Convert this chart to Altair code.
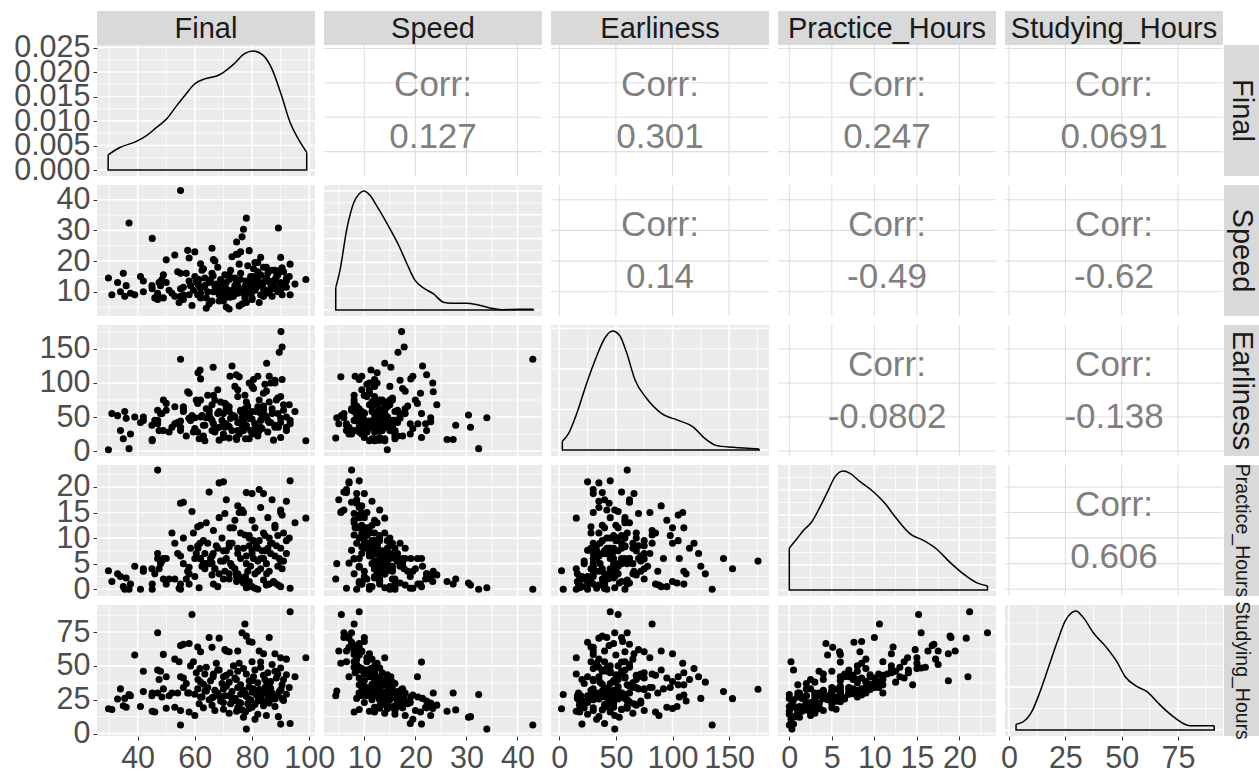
import altair as alt
import pandas as pd

# ---------------- data ----------------
final = [55.0, 29.8, 78.0, 89.2, 77.0, 76.5, 74.6, 90.0, 60.0, 93.3, 55.0, 31.0, 36.0, 45.1, 50.0, 77.7, 75.0, 80.0, 84.0, 82.0,
         85.0, 67.0, 41.0, 72.0, 63.0, 58.0, 53.0, 70.0, 88.0, 35.0, 66.0, 79.0, 46.0, 81.0,
         37.0, 45.1, 72.0, 64.0, 57.5, 73.0, 74.5, 62.0, 76.0, 42.0, 34.0, 35.5, 37.5, 33.0, 47.0, 45.0, 48.5, 51.0, 54.0, 56.0,
         58.0, 60.0, 61.0, 62.5, 63.5, 64.5, 65.0, 66.0, 67.0, 68.0, 69.0, 70.0, 70.5, 71.0, 72.5, 73.0, 74.0, 75.0, 75.5, 76.0,
         77.0, 78.0, 78.5, 79.0, 79.5, 80.0, 80.5, 81.0, 81.5, 82.0, 82.5, 83.0, 83.5, 84.0, 84.5, 85.0, 85.5, 86.0, 86.5, 87.0,
         88.0, 89.0, 90.0, 91.0, 92.0, 93.0, 70.0, 52.0, 68.5, 79.0, 87.5, 61.5, 77.5, 49.0, 66.5, 82.0,
         47.0, 93.3, 59.0, 77.5, 76.5, 78.0, 98.8, 65.0, 68.5, 55.0, 56.0, 61.0, 70.5, 71.0, 75.0, 79.0, 82.5, 88.0, 84.0, 58.0,
         66.0, 62.0, 80.0, 72.0, 86.0, 54.5, 92.0, 90.0, 83.0, 39.0, 75.5, 49.0,
         61.8, 66.4, 72.3, 85.1, 61.1, 50.0, 42.0, 47.0, 48.0, 47.5, 53.0, 55.0, 56.0, 58.5, 59.5, 60.5, 62.0, 63.0, 64.0, 65.5,
         66.5, 67.5, 68.5, 69.5, 71.0, 72.0, 73.5, 74.0, 75.0, 76.0, 77.0, 78.0, 79.0, 80.0, 80.5, 81.0, 82.0, 83.0, 84.0, 84.5,
         85.5, 86.5, 87.0, 88.0, 88.5, 89.0, 90.0, 91.0, 92.0, 95.0, 57.0, 70.0, 80.0, 86.0, 68.0, 74.5, 63.5, 90.5,
         90.1, 90.5, 89.5]
speed = [43.0, 14.5, 34.0, 30.8, 30.4, 27.9, 26.2, 21.2, 23.0, 19.0, 16.0, 9.0, 12.0, 11.0, 13.0, 12.0, 22.2, 15.0, 13.0, 16.0,
         18.0, 20.0, 15.0, 14.0, 17.5, 21.0, 22.0, 12.0, 17.0, 16.0, 24.2, 23.4, 8.0, 19.5,
         32.4, 27.4, 4.4, 4.6, 23.5, 21.4, 22.2, 19.1, 23.0, 13.5, 10.0, 8.5, 9.5, 13.0, 9.0, 12.0, 14.0, 10.5, 16.5, 11.5,
         13.5, 15.0, 12.5, 17.0, 14.5, 10.0, 13.0, 16.0, 12.0, 18.0, 14.0, 11.0, 15.5, 13.0, 17.0, 10.5, 14.5, 12.0, 19.0, 16.0,
         11.0, 13.5, 18.5, 9.5, 15.0, 12.5, 17.5, 14.0, 11.5, 16.5, 13.0, 15.5, 12.0, 18.0, 10.5, 14.5, 16.0, 13.5, 11.0, 17.0,
         14.0, 15.5, 12.5, 16.5, 13.5, 15.0, 10.0, 9.5, 12.5, 11.5, 13.0, 14.0, 9.0, 15.5, 20.5, 19.5,
         7.5, 9.0, 5.5, 8.0, 6.0, 6.5, 14.0, 6.0, 7.0, 8.5, 7.5, 9.0, 8.0, 5.0, 9.5, 10.0, 6.5, 11.0, 8.5, 9.0,
         7.0, 8.0, 7.5, 9.5, 10.0, 6.5, 11.5, 10.5, 21.2, 9.0, 5.4, 8.0,
         11.3, 15.2, 8.2, 14.0, 12.5, 20.4, 10.0, 9.5, 12.0, 13.0, 8.5, 11.0, 9.0, 12.0, 10.5, 13.5, 9.5, 11.5, 8.0, 14.0,
         10.0, 12.5, 9.0, 13.0, 11.0, 15.5, 8.5, 12.0, 10.0, 14.0, 9.5, 11.5, 13.0, 8.0, 12.0, 10.5, 14.5, 9.0, 11.0, 13.5,
         10.0, 12.5, 8.5, 11.5, 15.0, 10.0, 13.0, 12.0, 14.5, 12.5, 16.0, 7.0, 10.0, 9.5, 11.0, 13.0, 12.0, 9.0,
         17.3, 17.8, 16.6]
earliness = [135, 2, 49, 35, 53, 38, 17, 20, 49, 40, 30, 55, 48, 15, 60, 18, 30, 95, 60, 25,
             88, 75, 42, 65, 22, 85, 40, 55, 104, 18, 68, 100, 45, 33,
             3.5, 17, 19, 49, 87, 125, 112, 106, 43, 50, 30, 58, 25, 52, 45, 38, 55, 28, 42, 65,
             48, 33, 70, 52, 38, 82, 60, 45, 28, 55, 72, 40, 35, 62, 48, 30, 50, 80, 25, 58,
             44, 36, 66, 52, 30, 47, 92, 40, 58, 22, 75, 45, 33, 62, 98, 50, 28, 72, 42, 55,
             35, 78, 48, 60, 30, 68, 20, 35, 16, 18, 16, 18, 62, 75, 40, 110,
             60, 45, 52, 82, 49, 38, 15, 55, 35, 44, 62, 28, 70, 40, 90, 56, 30, 100, 66, 48,
             30, 75, 25, 58, 42, 40, 35, 80, 55, 50, 109, 30,
             119, 123, 110, 129, 115, 70, 45, 40, 55, 30, 65, 35, 58, 45, 28, 75, 50, 38, 62, 48,
             82, 33, 58, 45, 68, 36, 52, 95, 42, 60, 30, 72, 48, 58, 105, 40, 65, 35, 85, 52,
             45, 100, 62, 38, 75, 55, 42, 68, 50, 58, 22, 25, 30, 110, 90, 20, 15, 105,
             175.5, 153, 145]
practice_hours = [0.0, 3.6, 0.3, 0.8, 1.2, 2.0, 1.5, 0.5, 2.5, 0.2, 1.0, 1.5, 2.2, 0.0, 1.0, 2.5, 3.0, 0.5, 1.8, 0.0,
                  0.8, 4.0, 0.0, 3.0, 5.0, 1.0, 2.0, 5.5, 1.2, 0.5, 2.8, 1.5, 3.0, 0.2,
                  0.0, 1.0, 2.0, 5.0, 3.5, 4.5, 3.0, 6.0, 2.0, 4.0, 2.5, 0.0, 1.0, 3.0, 6.0, 4.0, 5.5, 2.0, 7.0, 5.0,
                  3.0, 6.0, 8.5, 4.5, 7.0, 9.0, 5.0, 6.5, 4.0, 8.0, 5.5, 7.5, 3.5, 6.0, 5.0, 9.0, 4.0, 7.0, 2.5, 6.0,
                  8.0, 5.0, 3.5, 10.0, 4.5, 7.0, 6.0, 3.0, 8.5, 5.5, 9.5, 4.0, 7.5, 6.0, 10.5, 5.0, 8.0, 3.5, 7.0, 9.0,
                  6.5, 4.5, 8.0, 5.5, 7.0, 10.0, 2.0, 11.0, 3.0, 0.5, 1.5, 0.3, 1.2, 2.0, 1.0, 3.5,
                  23.3, 21.2, 15.2, 10.6, 15.5, 18.9, 13.9, 19.0, 20.8, 16.8, 17.0, 12.2, 14.8, 17.5, 16.3, 8.5, 19.5, 12.0, 18.7, 4.3,
                  5.1, 5.9, 7.6, 8.3, 10.0, 0.2, 17.2, 15.0, 6.0, 4.5, 15.0, 6.0,
                  9.0, 7.0, 12.0, 3.0, 8.0, 6.0, 3.5, 7.0, 5.0, 4.0, 9.0, 6.5, 10.0, 8.0, 11.0, 7.0, 12.5, 9.5, 13.0, 6.0,
                  11.5, 8.5, 14.0, 10.0, 7.5, 9.0, 12.0, 13.5, 8.0, 11.0, 15.0, 6.5, 10.5, 13.5, 9.5, 12.0, 8.0, 16.0, 11.0, 7.5,
                  14.0, 9.0, 17.5, 12.5, 8.5, 10.5, 15.5, 11.0, 9.5, 13.0, 2.0, 21.0, 18.7, 1.0, 0.5, 2.5, 4.0, 14.5,
                  5.5, 4.0, 6.0]
studying_hours = [6.3, 18.3, 3.3, 12.5, 12.0, 17.5, 16.5, 7.0, 13.3, 7.5, 17.0, 17.8, 19.5, 16.5, 18.7, 16.0, 19.0, 19.5, 20.5, 14.3,
                  13.3, 17.0, 20.0, 15.0, 19.0, 16.0, 19.5, 18.0, 20.0, 20.5, 21.0, 18.5, 16.0, 10.5,
                  28.8, 30.0, 28.0, 31.5, 30.0, 26.0, 24.0, 27.0, 22.5, 31.0, 33.0, 26.0, 28.0, 25.5, 30.0, 28.0, 27.0, 28.0, 30.0, 34.0,
                  30.0, 29.0, 33.0, 27.0, 31.5, 34.0, 25.0, 26.5, 32.0, 30.0, 24.0, 33.0, 28.0, 35.0, 22.0, 31.0, 26.0, 34.0, 23.0, 29.0,
                  32.0, 27.5, 22.0, 34.5, 25.0, 30.5, 33.0, 21.5, 28.5, 24.0, 32.5, 26.5, 29.5, 23.5, 34.0, 31.0, 27.0, 22.5, 33.5, 30.0,
                  25.5, 28.0, 32.0, 24.5, 29.0, 34.0, 23.0, 30.0, 28.0, 25.0, 26.0, 22.0, 30.0, 33.0, 27.0, 28.5,
                  74.5, 90.0, 88.0, 81.0, 74.5, 72.0, 56.0, 71.0, 70.5, 65.0, 66.0, 64.0, 62.0, 61.0, 61.0, 68.0, 61.0, 59.0, 59.0, 66.5,
                  63.7, 60.5, 67.5, 60.5, 71.0, 53.0, 55.0, 56.0, 52.8, 58.0, 52.0, 58.5,
                  48.0, 42.0, 45.0, 38.0, 40.0, 42.0, 46.0, 47.0, 46.0, 40.0, 55.0, 42.0, 41.0, 50.0, 53.0, 45.0, 38.0, 36.5, 49.0, 39.0,
                  44.0, 52.0, 47.0, 37.0, 43.0, 38.0, 50.0, 41.0, 46.0, 36.0, 48.0, 44.0, 39.0, 53.0, 42.0, 47.0, 37.5, 49.0, 43.0, 40.0,
                  45.0, 38.5, 51.0, 46.0, 41.0, 44.0, 48.5, 40.0, 43.5, 42.0, 37.0, 42.0, 39.0, 36.0, 47.0, 40.0, 44.0, 36.0,
                  32.8, 25.8, 31.0]

VARS = ["Final", "Speed", "Earliness", "Practice_Hours", "Studying_Hours"]

# correlation labels shown in the upper triangle
corr_labels = {(0, 1): "0.127", (0, 2): "0.301", (0, 3): "0.247", (0, 4): "0.0691",
               (1, 2): "0.14", (1, 3): "-0.49", (1, 4): "-0.62",
               (2, 3): "-0.0802", (2, 4): "-0.138", (3, 4): "0.606"}

# axis ticks
major_ticks = {"Final": [40, 60, 80, 100], "Speed": [10, 20, 30, 40], "Earliness": [0, 50, 100, 150],
               "Practice_Hours": [0, 5, 10, 15, 20], "Studying_Hours": [0, 25, 50, 75]}
minor_ticks = {"Final": [30, 50, 70, 90], "Speed": [5, 15, 25, 35], "Earliness": [25, 75, 125, 175],
               "Practice_Hours": [2.5, 7.5, 12.5, 17.5, 22.5], "Studying_Hours": [12.5, 37.5, 62.5, 87.5]}
domains = {"Final": [25.8, 102.0], "Speed": [2.1, 44.8], "Earliness": [-7.3, 185.2],
           "Practice_Hours": [-1.33, 24.3], "Studying_Hours": [-1.8, 95.0]}

# density curves (Final in density units, others relative to their peak)
dens_x = {
    "Final": [29.7, 33.8, 39.4, 43.1, 46.6, 50.1, 53.6, 56.5, 60.0, 63.5, 67.6, 69.9, 73.4, 77.5, 80.4, 83.9, 86.9, 90.3, 93.3, 96.2, 99.1],
    "Speed": [4.4, 5.24, 6.56, 7.85, 9.0, 9.94, 11.1, 12.4, 14.7, 16.65, 18.3, 19.9, 21.5, 23.5, 25.5, 27.1, 30.0, 32.0, 34.6, 36.9, 40.5, 43.1],
    "Earliness": [2.7, 8.0, 15.4, 24.2, 33.0, 40.4, 47.2, 53.6, 59.5, 66.9, 77.2, 90.5, 105.1, 118.4, 127.2, 139.0, 153.7, 176.5],
    "Practice_Hours": [0.0, 0.87, 1.65, 2.63, 3.61, 4.59, 5.38, 6.35, 7.14, 8.32, 9.88, 11.26, 12.6, 14.2, 15.8, 17.3, 18.9, 20.5, 22.0, 23.3],
    "Studying_Hours": [3.1, 6.36, 10.1, 13.8, 17.4, 21.2, 24.9, 27.8, 29.7, 33.0, 37.4, 43.4, 47.8, 51.5, 56.7, 61.1, 67.0, 72.9, 80.3, 91.1],
}
dens_y = {
    "Final": [0.0031, 0.0046, 0.0058, 0.0070, 0.0087, 0.0104, 0.0131, 0.0152, 0.0176, 0.0186, 0.0192, 0.0199, 0.0215, 0.0238, 0.0243, 0.0234, 0.0207, 0.0152, 0.0097, 0.0063, 0.0036],
    "Speed": [0.188, 0.336, 0.678, 0.892, 0.977, 1.0, 0.963, 0.877, 0.707, 0.55, 0.393, 0.251, 0.188, 0.137, 0.066, 0.057, 0.057, 0.046, 0.017, 0.003, 0.006, 0.006],
    "Earliness": [0.074, 0.136, 0.306, 0.561, 0.788, 0.943, 1.0, 0.958, 0.816, 0.589, 0.433, 0.306, 0.249, 0.193, 0.108, 0.037, 0.023, 0.008],
    "Practice_Hours": [0.353, 0.429, 0.5, 0.571, 0.698, 0.839, 0.952, 1.0, 0.98, 0.91, 0.825, 0.726, 0.6, 0.472, 0.415, 0.345, 0.232, 0.133, 0.062, 0.034],
    "Studying_Hours": [0.048, 0.07, 0.155, 0.324, 0.52, 0.73, 0.915, 0.986, 1.0, 0.944, 0.817, 0.69, 0.577, 0.45, 0.366, 0.324, 0.211, 0.113, 0.037, 0.037],
}
dens_major = {"Final": [0, 0.005, 0.010, 0.015, 0.020, 0.025], "Speed": [0, 0.2, 0.4, 0.6, 0.8, 1.0],
              "Earliness": [0, 0.34, 0.68, 1.02], "Practice_Hours": [0, 0.21, 0.42, 0.63, 0.84],
              "Studying_Hours": [0, 0.36, 0.72]}
dens_minor = {"Final": [0.0025, 0.0075, 0.0125, 0.0175, 0.0225], "Speed": [0.1, 0.3, 0.5, 0.7, 0.9],
              "Earliness": [0.17, 0.51, 0.85], "Practice_Hours": [0.105, 0.315, 0.525, 0.735, 0.945],
              "Studying_Hours": [0.18, 0.54, 0.9]}

# ---------------- styling ----------------
W, H = 218, 131
FONT = "Liberation Sans"
STRIP_FILL = "#D9D9D9"
STRIP_TEXT = "#1A1A1A"
CORR_COLOR = "#7F7F7F"
right_strip_size = {"Final": 29, "Speed": 29, "Earliness": 29, "Practice_Hours": 19.5, "Studying_Hours": 19.5}

n = min(len(final), len(speed), len(earliness), len(practice_hours), len(studying_hours))
values = {"Final": final[:n], "Speed": speed[:n], "Earliness": earliness[:n],
          "Practice_Hours": practice_hours[:n], "Studying_Hours": studying_hours[:n]}
dummy = pd.DataFrame({"d": [0]})


def inside(vals, dom):
    return [v for v in vals if dom[0] <= v <= dom[1]]


def vgrid(vals, scale, axis, color, width):
    return alt.Chart(pd.DataFrame({"gx": vals})).mark_rule(color=color, strokeWidth=width).encode(
        x=alt.X("gx:Q", scale=scale, axis=axis))


def hgrid(vals, scale, axis, color, width):
    return alt.Chart(pd.DataFrame({"gy": vals})).mark_rule(color=color, strokeWidth=width).encode(
        y=alt.Y("gy:Q", scale=scale, axis=axis))


def panel(i, j):
    vr, vc = VARS[i], VARS[j]
    xdom = domains[vc]
    xs = alt.Scale(domain=xdom, nice=False, zero=False)
    ax = alt.Axis(values=major_ticks[vc], format="d", title=None) if i == 4 else None
    layers = []
    if i == j:
        peak = max(dens_y[vr])
        ydom = [-0.05 * peak, 1.05 * peak]
        ys = alt.Scale(domain=ydom, nice=False, zero=False)
        ay = alt.Axis(values=dens_major["Final"], format=".3f", title=None) if j == 0 else None
        layers += [
            vgrid(inside(minor_ticks[vc], xdom), xs, ax, "white", 0.8),
            hgrid(inside(dens_minor[vr], ydom), ys, ay, "white", 0.8),
            vgrid(inside(major_ticks[vc], xdom), xs, ax, "white", 1.6),
            hgrid(inside(dens_major[vr], ydom), ys, ay, "white", 1.6),
        ]
        xsx = dens_x[vr]
        ysy = dens_y[vr]
        curve = pd.DataFrame({"x": xsx, "y": ysy})
        layers.append(alt.Chart(curve).mark_line(color="black", strokeWidth=1.5, interpolate="monotone").encode(
            x=alt.X("x:Q", scale=xs, axis=ax), y=alt.Y("y:Q", scale=ys, axis=ay), order="x:Q"))
        edge = pd.DataFrame({"x": [xsx[0], xsx[0], xsx[-1], xsx[-1]],
                             "y": [ysy[0], 0, 0, ysy[-1]], "o": [0, 1, 2, 3]})
        layers.append(alt.Chart(edge).mark_line(color="black", strokeWidth=1.5).encode(
            x=alt.X("x:Q", scale=xs, axis=ax), y=alt.Y("y:Q", scale=ys, axis=ay), order="o:Q"))
    elif i > j:
        ydom = domains[vr]
        ys = alt.Scale(domain=ydom, nice=False, zero=False)
        ay = alt.Axis(values=major_ticks[vr], format="d", title=None) if j == 0 else None
        layers += [
            vgrid(inside(minor_ticks[vc], xdom), xs, ax, "white", 0.8),
            hgrid(inside(minor_ticks[vr], ydom), ys, ay, "white", 0.8),
            vgrid(inside(major_ticks[vc], xdom), xs, ax, "white", 1.6),
            hgrid(inside(major_ticks[vr], ydom), ys, ay, "white", 1.6),
        ]
        df = pd.DataFrame({"x": values[vc], "y": values[vr]})
        layers.append(alt.Chart(df).mark_circle(size=50, color="black", opacity=1).encode(
            x=alt.X("x:Q", scale=xs, axis=ax), y=alt.Y("y:Q", scale=ys, axis=ay)))
    else:
        ydom = domains[vr]
        ys = alt.Scale(domain=ydom, nice=False, zero=False)
        layers.append(alt.Chart(dummy).mark_rect(color="white").encode(
            x=alt.value(0), x2=alt.value(W), y=alt.value(0), y2=alt.value(H)))
        layers += [
            vgrid(inside(major_ticks[vc], xdom), xs, None, "#DEDEDE", 1.1),
            hgrid(inside(major_ticks[vr], ydom), ys, None, "#DEDEDE", 1.1),
        ]
        layers.append(alt.Chart(dummy).mark_text(
            text="Corr:", font=FONT, fontSize=35, color=CORR_COLOR, align="center", baseline="middle").encode(
            x=alt.value(W / 2), y=alt.value(H / 2 - 26)))
        layers.append(alt.Chart(dummy).mark_text(
            text=corr_labels[(i, j)], font=FONT, fontSize=35, color=CORR_COLOR, align="center", baseline="middle").encode(
            x=alt.value(W / 2), y=alt.value(H / 2 + 26)))
    if i == 0:
        layers.append(alt.Chart(dummy).mark_rect(color=STRIP_FILL).encode(
            x=alt.value(0), x2=alt.value(W), y=alt.value(-34), y2=alt.value(0)))
        layers.append(alt.Chart(dummy).mark_text(
            text=vc, font=FONT, fontSize=29, color=STRIP_TEXT, align="center", baseline="middle").encode(
            x=alt.value(W / 2), y=alt.value(-16)))
    if j == 4:
        layers.append(alt.Chart(dummy).mark_rect(color=STRIP_FILL).encode(
            x=alt.value(W + 1), x2=alt.value(W + 36), y=alt.value(0), y2=alt.value(H)))
        layers.append(alt.Chart(dummy).mark_text(
            text=vr, font=FONT, fontSize=right_strip_size[vr], color=STRIP_TEXT, align="center",
            baseline="middle", angle=90).encode(
            x=alt.value(W + 19), y=alt.value(H / 2)))
    return alt.layer(*layers).properties(width=W, height=H)


panels = [panel(i, j) for i in range(5) for j in range(5)]

chart = alt.concat(*panels, columns=5, spacing=9, bounds="flush").properties(
    padding={"left": 13, "top": 11, "right": 0, "bottom": 0},
    background="white",
).configure_view(
    fill="#EBEBEB", stroke=None
).configure_axis(
    labelFont=FONT, labelFontSize=30.5, labelColor="#4D4D4D", tickColor="#333333",
    tickSize=4, tickWidth=1, domain=False, grid=False, labelOverlap=False, labelFlush=False
).configure_axisY(
    labelPadding=3
).configure_axisX(
    labelPadding=3
)

chart.save("out.html", embed_options={"renderer": "svg", "actions": False})
